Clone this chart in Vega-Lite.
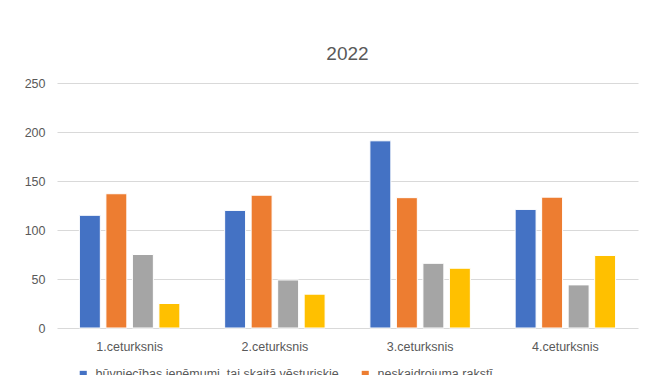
{
  "$schema": "https://vega.github.io/schema/vega-lite/v6.json",
  "width": 581,
  "height": 245,
  "padding": {"left": 17, "top": 44, "right": 10, "bottom": 5},
  "background": "white",
  "title": {"text": "2022", "fontSize": 19, "fontWeight": "normal", "color": "#595959", "font": "Liberation Sans", "offset": 13.5, "anchor": "middle"},
  "data": {"values": [
    {"q": "1.ceturksnis", "s": "būvniecības ieņēmumi, tai skaitā vēsturiskie", "v": 115},
    {"q": "1.ceturksnis", "s": "neskaidrojuma rakstī", "v": 137},
    {"q": "1.ceturksnis", "s": "citi ieņēmumi", "v": 75},
    {"q": "1.ceturksnis", "s": "pārējie", "v": 25},
    {"q": "2.ceturksnis", "s": "būvniecības ieņēmumi, tai skaitā vēsturiskie", "v": 120},
    {"q": "2.ceturksnis", "s": "neskaidrojuma rakstī", "v": 135.5},
    {"q": "2.ceturksnis", "s": "citi ieņēmumi", "v": 49},
    {"q": "2.ceturksnis", "s": "pārējie", "v": 34.5},
    {"q": "3.ceturksnis", "s": "būvniecības ieņēmumi, tai skaitā vēsturiskie", "v": 191},
    {"q": "3.ceturksnis", "s": "neskaidrojuma rakstī", "v": 133},
    {"q": "3.ceturksnis", "s": "citi ieņēmumi", "v": 66},
    {"q": "3.ceturksnis", "s": "pārējie", "v": 61},
    {"q": "4.ceturksnis", "s": "būvniecības ieņēmumi, tai skaitā vēsturiskie", "v": 121},
    {"q": "4.ceturksnis", "s": "neskaidrojuma rakstī", "v": 133.5},
    {"q": "4.ceturksnis", "s": "citi ieņēmumi", "v": 44},
    {"q": "4.ceturksnis", "s": "pārējie", "v": 74}
  ]},
  "mark": {"type": "bar", "stroke": "white", "strokeWidth": 1},
  "encoding": {
    "x": {"field": "q", "type": "nominal", "sort": null, "title": null,
      "scale": {"paddingInner": 0, "paddingOuter": 0},
      "axis": {"labelAngle": 0, "domain": false, "ticks": false, "labelPadding": 12, "labelFontSize": 12.5, "labelColor": "#595959", "labelFont": "Liberation Sans"}},
    "xOffset": {"field": "s", "type": "nominal", "sort": null,
      "scale": {"paddingInner": 0.21, "paddingOuter": 0.845}},
    "y": {"field": "v", "type": "quantitative", "title": null,
      "scale": {"domain": [0, 250], "nice": false},
      "axis": {"values": [0, 50, 100, 150, 200, 250], "domain": false, "ticks": false, "labelPadding": 12, "labelFontSize": 12.5, "labelColor": "#595959", "labelFont": "Liberation Sans", "gridColor": "#D9D9D9", "gridWidth": 1.2, "minExtent": 40, "maxExtent": 40}},
    "color": {"field": "s", "type": "nominal", "sort": null, "title": null,
      "scale": {"range": ["#4472C4", "#ED7D31", "#A5A5A5", "#FFC000"]},
      "legend": {"orient": "none", "legendX": 20, "legendY": 285, "direction": "horizontal", "columns": 2, "columnPadding": 20, "symbolType": "square", "symbolSize": 50, "symbolStrokeWidth": 0, "labelFontSize": 12.5, "labelColor": "#595959", "labelFont": "Liberation Sans", "labelLimit": 400, "labelOffset": 6, "rowPadding": 6}}
  },
  "config": {"view": {"stroke": null}}
}
